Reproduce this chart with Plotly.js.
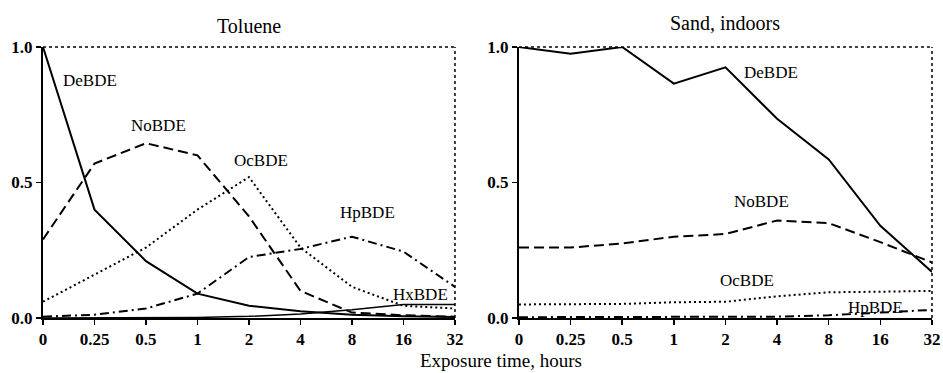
<!DOCTYPE html>
<html>
<head>
<meta charset="utf-8">
<script src="https://cdn.plot.ly/plotly-3.0.1.min.js"></script>
<style>html,body{margin:0;padding:0;background:#fff;}#chart{width:943px;height:373px;}</style>
</head>
<body>
<div id="chart"></div>
<script>
// Categories (exposure time, hours) – evenly spaced on the chart
const times = ["0", "0.25", "0.5", "1", "2", "4", "8", "16", "32"];

// Toluene panel
const tolDeBDE = [1.00, 0.40, 0.21, 0.09, 0.045, 0.025, 0.012, 0.006, 0.004];
const tolNoBDE = [0.29, 0.57, 0.645, 0.60, 0.375, 0.10, 0.02, 0.01, 0.005];
const tolOcBDE = [0.06, 0.16, 0.26, 0.40, 0.52, 0.26, 0.115, 0.045, 0.035];
const tolHpBDE = [0.005, 0.012, 0.035, 0.09, 0.225, 0.255, 0.30, 0.245, 0.115];
const tolHxBDE = [0.0, 0.0, 0.0, 0.002, 0.006, 0.015, 0.03, 0.05, 0.05];

// Sand, indoors panel
const sandDeBDE = [1.00, 0.975, 1.00, 0.865, 0.925, 0.735, 0.585, 0.34, 0.17];
const sandNoBDE = [0.26, 0.26, 0.275, 0.30, 0.31, 0.36, 0.35, 0.28, 0.205];
const sandOcBDE = [0.05, 0.05, 0.052, 0.058, 0.06, 0.08, 0.095, 0.097, 0.10];
const sandHpBDE = [0.003, 0.003, 0.003, 0.003, 0.004, 0.005, 0.01, 0.02, 0.03];

const yTicks = [0, 0.5, 1];
const yTickText = ["0.0", "0.5", "1.0"];

function line(y, dash, xa, ya, w) {
  return {x: times, y: y, type: "scatter", mode: "lines", xaxis: xa, yaxis: ya,
    line: {color: "#000", width: w || 2, dash: dash}, hoverinfo: "skip", showlegend: false};
}

const data = [
  line(tolDeBDE, "solid", "x", "y"),
  line(tolNoBDE, "10px,5px", "x", "y"),
  line(tolOcBDE, "2px,3px", "x", "y"),
  line(tolHpBDE, "9px,4px,2px,4px", "x", "y"),
  line(tolHxBDE, "solid", "x", "y", 1.5),
  line(sandDeBDE, "solid", "x2", "y2"),
  line(sandNoBDE, "10px,5px", "x2", "y2"),
  line(sandOcBDE, "2px,3px", "x2", "y2"),
  line(sandHpBDE, "9px,4px,2px,4px", "x2", "y2")
];

const tickFont = {family: "Liberation Serif", size: 17, color: "#000", weight: "bold"};
const labFont = {family: "Liberation Serif", size: 17, color: "#000"};
const titleFont = {family: "Liberation Serif", size: 20, color: "#000"};
const xTitleFont = {family: "Liberation Serif", size: 19, color: "#000"};

function xax(domain, anchor) {
  return {domain: domain, anchor: anchor, type: "category", range: [0, 8],
    showgrid: false, zeroline: false, showline: true, linecolor: "#000", linewidth: 2,
    ticks: "outside", ticklen: 5, tickwidth: 1.5, tickcolor: "#000",
    tickfont: tickFont, fixedrange: true};
}
function yax(anchor) {
  return {domain: [0, 1], anchor: anchor, range: [0, 1], tickvals: yTicks, ticktext: yTickText,
    showgrid: false, zeroline: false, showline: true, linecolor: "#000", linewidth: 2,
    ticks: "outside", ticklen: 5, tickwidth: 1.5, tickcolor: "#000",
    tickfont: tickFont, fixedrange: true};
}

function frame(xr, yr) {
  return [
    {type: "line", xref: xr + " domain", yref: yr + " domain", x0: 0, x1: 1, y0: 1, y1: 1,
      line: {color: "#000", width: 1.5, dash: "dot"}},
    {type: "line", xref: xr + " domain", yref: yr + " domain", x0: 1, x1: 1, y0: 0, y1: 1,
      line: {color: "#000", width: 1.5, dash: "dot"}}
  ];
}

function lab(text, x, y, xr, yr, font) {
  return {text: text, x: x, y: y, xref: xr, yref: yr, showarrow: false,
    xanchor: "center", yanchor: "middle", font: font || labFont};
}

const layout = {
  width: 943, height: 373,
  margin: {l: 43, r: 11, t: 47, b: 55},
  paper_bgcolor: "#fff", plot_bgcolor: "#fff",
  xaxis: xax([0, 0.4634], "y"),
  yaxis: yax("x"),
  xaxis2: xax([0.5354, 1], "y2"),
  yaxis2: yax("x2"),
  shapes: frame("x", "y").concat(frame("x2", "y2")),
  annotations: [
    lab("Toluene", 0.5, 1.0, "x domain", "paper", titleFont),
    lab("Sand, indoors", 0.5, 1.0, "x2 domain", "paper", titleFont),
    lab("Exposure time, hours", 0.515, -0.155, "paper", "paper", xTitleFont),
    lab("DeBDE", 0.91, 0.875, "x", "y"),
    lab("NoBDE", 2.25, 0.71, "x", "y"),
    lab("OcBDE", 4.23, 0.58, "x", "y"),
    lab("HpBDE", 6.31, 0.39, "x", "y"),
    lab("HxBDE", 7.34, 0.085, "x", "y"),
    lab("DeBDE", 4.88, 0.905, "x2", "y2"),
    lab("NoBDE", 4.69, 0.43, "x2", "y2"),
    lab("OcBDE", 4.42, 0.14, "x2", "y2"),
    lab("HpBDE", 6.9, 0.037, "x2", "y2")
  ]
};
// title annotations sit above the plot area
layout.annotations[0].yanchor = "bottom"; layout.annotations[0].yshift = 8;
layout.annotations[1].yanchor = "bottom"; layout.annotations[1].yshift = 11;

Plotly.newPlot("chart", data, layout, {displayModeBar: false, staticPlot: true});
</script>
</body>
</html>
